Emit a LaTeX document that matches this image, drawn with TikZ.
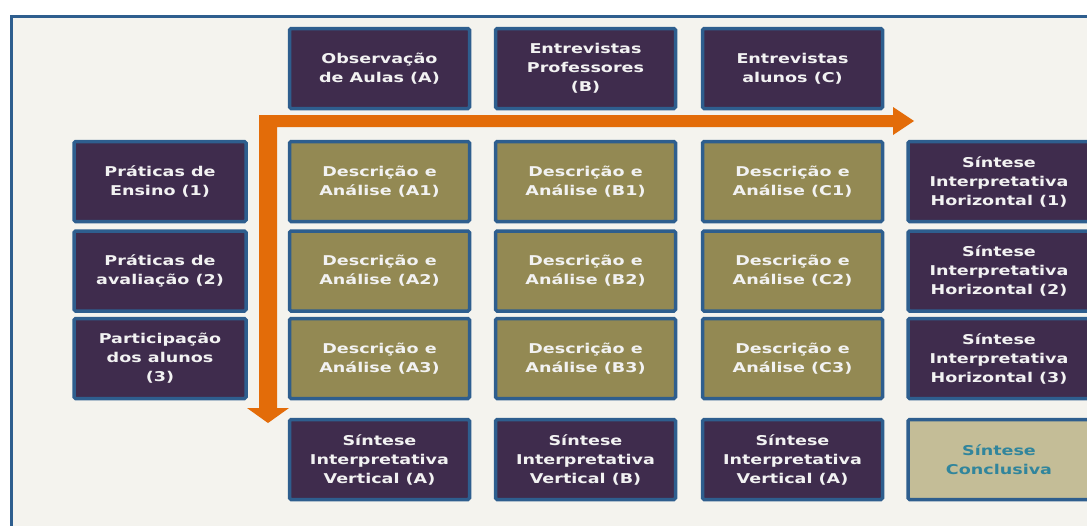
\documentclass[tikz,border=0pt]{standalone}
\usepackage{fontspec}
\setmainfont{DejaVu Sans}
\newfontfamily\boxfont[FakeStretch=1.3]{DejaVu Sans}
\definecolor{bgc}{HTML}{F4F3EE}
\definecolor{framec}{HTML}{2E5E8E}
\definecolor{purp}{HTML}{3F2C4D}
\definecolor{olive}{HTML}{938953}
\definecolor{tan}{HTML}{C4BD97}
\definecolor{teal}{HTML}{31859C}
\definecolor{orng}{HTML}{E36C09}
\definecolor{txt}{HTML}{F2F2F2}
\tikzset{
  box/.style={draw=framec, line width=3.5pt, rounded corners=1.5pt, align=center,
    text=txt, font=\boxfont\bfseries\fontsize{13.5}{19}\selectfont, inner sep=0pt},
  dbox/.style={box, fill=purp},
  obox/.style={box, fill=olive},
  cbox/.style={box, fill=tan, text=teal},
}
\begin{document}
\begin{tikzpicture}[x=1pt,y=-1pt]
\useasboundingbox (0,0) rectangle (1087,525);
\fill[white] (0,0) rectangle (1087,525);
\draw[framec, line width=3pt, fill=bgc] (11.5,16.5) rectangle (1100,540);
% sizes
\def\w{180}
\def\h{80}
% header row
\node[dbox, minimum width=\w, minimum height=\h] (hA) at (379.5,68.5) {Observação\\de Aulas (A)};
\node[dbox, minimum width=\w, minimum height=\h] (hB) at (585.5,68.5) {Entrevistas\\Professores\\(B)};
\node[dbox, minimum width=\w, minimum height=\h] (hC) at (792.5,68.5) {Entrevistas\\alunos (C)};
% left column
\node[dbox, minimum width=172, minimum height=\h] (l1) at (160,181.5) {Práticas de\\Ensino (1)};
\node[dbox, minimum width=172, minimum height=\h] (l2) at (160,271) {Práticas de\\avaliação (2)};
\node[dbox, minimum width=172, minimum height=\h] (l3) at (160,358.5) {Participação\\dos alunos\\(3)};
% grid
\node[obox, minimum width=\w, minimum height=\h] (a1) at (379.5,181.5) {Descrição e\\Análise (A1)};
\node[obox, minimum width=\w, minimum height=\h] (b1) at (585.5,181.5) {Descrição e\\Análise (B1)};
\node[obox, minimum width=\w, minimum height=\h] (c1) at (792.5,181.5) {Descrição e\\Análise (C1)};
\node[obox, minimum width=\w, minimum height=\h] (a2) at (379.5,271) {Descrição e\\Análise (A2)};
\node[obox, minimum width=\w, minimum height=\h] (b2) at (585.5,271) {Descrição e\\Análise (B2)};
\node[obox, minimum width=\w, minimum height=\h] (c2) at (792.5,271) {Descrição e\\Análise (C2)};
\node[obox, minimum width=\w, minimum height=\h] (a3) at (379.5,358.5) {Descrição e\\Análise (A3)};
\node[obox, minimum width=\w, minimum height=\h] (b3) at (585.5,358.5) {Descrição e\\Análise (B3)};
\node[obox, minimum width=\w, minimum height=\h] (c3) at (792.5,358.5) {Descrição e\\Análise (C3)};
% right column
\node[dbox, minimum width=182, minimum height=\h] (r1) at (999,181.5) {Síntese\\Interpretativa\\Horizontal (1)};
\node[dbox, minimum width=182, minimum height=\h] (r2) at (999,271) {Síntese\\Interpretativa\\Horizontal (2)};
\node[dbox, minimum width=182, minimum height=\h] (r3) at (999,358.5) {Síntese\\Interpretativa\\Horizontal (3)};
% bottom row
\node[dbox, minimum width=\w, minimum height=\h] (vA) at (379.5,459.5) {Síntese\\Interpretativa\\Vertical (A)};
\node[dbox, minimum width=\w, minimum height=\h] (vB) at (585.5,459.5) {Síntese\\Interpretativa\\Vertical (B)};
\node[dbox, minimum width=\w, minimum height=\h] (vC) at (792.5,459.5) {Síntese\\Interpretativa\\Vertical (A)};
\node[cbox, minimum width=182, minimum height=\h] (sc) at (999,459.5) {Síntese\\Conclusiva};
% orange L-arrow
\fill[orng] (259,115) -- (893,115) -- (893,107) -- (914,121) -- (893,135) -- (893,127)
  -- (277,127) -- (277,408) -- (289,408) -- (268,423) -- (247,408) -- (259,408) -- cycle;
\end{tikzpicture}
\end{document}
